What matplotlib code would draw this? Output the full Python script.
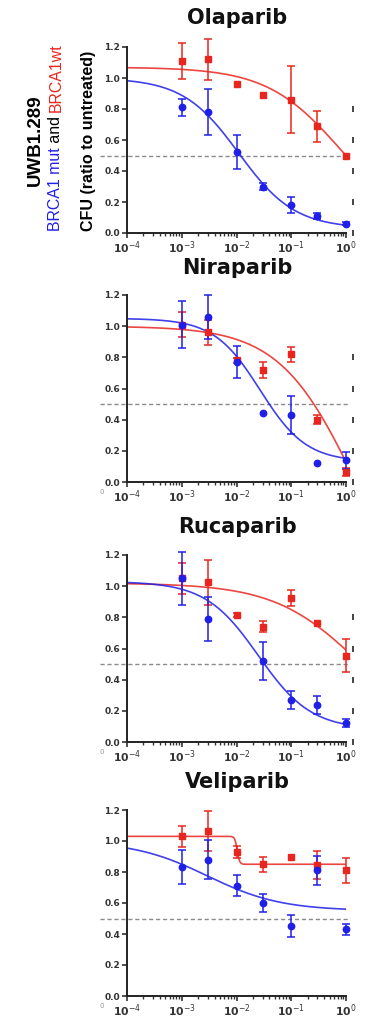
import numpy as np
import matplotlib
matplotlib.use("Agg")
import matplotlib.pyplot as plt
from matplotlib.ticker import LogLocator, NullFormatter

# drugs and doses (uM)
drugs = ["Olaparib", "Niraparib", "Rucaparib", "Veliparib"]
doses = [0.001, 0.003, 0.01, 0.03, 0.1, 0.3, 1.0]

# BRCA1 mut (blue) - mean CFU ratio and error
mut_mean = [
    [0.81, 0.78, 0.52, 0.30, 0.18, 0.11, 0.06],
    [1.01, 1.06, 0.77, 0.44, 0.43, 0.12, 0.14],
    [1.05, 0.79, np.nan, 0.52, 0.27, 0.24, 0.12],
    [0.83, 0.88, 0.71, 0.60, 0.45, 0.81, 0.43],
]
mut_err = [
    [0.055, 0.15, 0.11, 0.02, 0.05, 0.02, 0.01],
    [0.15, 0.14, 0.105, 0.0, 0.125, 0.0, 0.055],
    [0.17, 0.14, 0.0, 0.12, 0.06, 0.058, 0.026],
    [0.11, 0.127, 0.068, 0.055, 0.07, 0.093, 0.035],
]

# BRCA1 wt (red)
wt_mean = [
    [1.11, 1.12, 0.96, 0.89, 0.86, 0.69, 0.50],
    [1.01, 0.96, 0.78, 0.72, 0.82, 0.40, 0.065],
    [1.05, 1.025, 0.815, 0.74, 0.925, 0.765, 0.555],
    [1.03, 1.065, 0.93, 0.85, 0.90, 0.845, 0.81],
]
wt_err = [
    [0.115, 0.13, 0.0, 0.0, 0.215, 0.10, 0.0],
    [0.08, 0.08, 0.015, 0.05, 0.048, 0.03, 0.025],
    [0.10, 0.145, 0.01, 0.035, 0.053, 0.0, 0.105],
    [0.069, 0.13, 0.037, 0.048, 0.0, 0.088, 0.08],
]

# fitted dose-response curves: (top, bottom, IC50, hill)
mut_fit = [
    (1.0, 0.03, 0.011, 0.85),
    (1.05, 0.13, 0.027, 1.03),
    (1.03, 0.08, 0.025, 0.9),
    (1.0, 0.55, 0.00293, 0.645),
]
wt_fit = [
    (1.07, 0.0, 0.815, 0.64),
    (1.0, -1.0, 1.52, 0.62),
    (1.02, 0.0, 1.76, 0.56),
    (1.03, 0.85, 0.0103, 20.0),
]

y_ticks = [0.0, 0.2, 0.4, 0.6, 0.8, 1.0, 1.2]
x_exps = [-4, -3, -2, -1, 0]

BLUE = "#1f1fe8"
RED = "#e8261f"

W, H = 365, 1018
fig = plt.figure(figsize=(W / 100, H / 100), dpi=100)

# panel layout in pixels (top, bottom, title centre)
panel_top = [47, 295, 555, 810]
panel_bot = [233, 482, 742, 996]
title_y = [18, 268, 527, 782]
ax_left, ax_right = 127, 346


def curve(x, p):
    top, bottom, ic50, hill = p
    return bottom + (top - bottom) / (1 + (x / ic50) ** hill)


xs = np.logspace(-4, 0, 400)

for i, drug in enumerate(drugs):
    t, b = panel_top[i], panel_bot[i]
    ax = fig.add_axes([ax_left / W, 1 - b / H, (ax_right - ax_left) / W, (b - t) / H])
    ax.set_xscale("log")
    ax.set_xlim(1e-4, 1)
    ax.set_ylim(0, 1.2)

    # 50% line, runs a bit past the axes
    ax.plot([-0.123, 1.02], [0.5, 0.5], transform=ax.get_yaxis_transform(),
            color="#8a8a8a", lw=1.0, ls=(0, (3, 2)), clip_on=False, zorder=1)

    for mean, err, fit, col, mk, ms in [
        (wt_mean[i], wt_err[i], wt_fit[i], RED, "s", 4.6),
        (mut_mean[i], mut_err[i], mut_fit[i], BLUE, "o", 4.6),
    ]:
        ax.plot(xs, curve(xs, fit), color=col, lw=1.2, alpha=0.85, zorder=2)
        d = np.array(doses)
        m = np.array(mean)
        e = np.array(err)
        has = (e > 0) & ~np.isnan(m)
        ax.errorbar(d[has], m[has], yerr=e[has], fmt="none", ecolor=col,
                    elinewidth=1.1, capsize=3, capthick=1.1, clip_on=False, zorder=3)
        ax.plot(d, m, ls="none", marker=mk, ms=ms, color=col, mec=col,
                clip_on=False, zorder=4)

    for s in ["top", "right"]:
        ax.spines[s].set_visible(False)
    for s in ["left", "bottom"]:
        ax.spines[s].set_linewidth(1.4)
        ax.spines[s].set_color("#222222")

    ax.set_yticks(y_ticks)
    ax.set_yticklabels(["%.1f" % v for v in y_ticks], fontsize=6.5,
                       fontweight="bold", color="#333333")
    ax.set_xticks([10.0 ** k for k in x_exps])
    ax.set_xticklabels(["10$^{%d}$" % k for k in x_exps], fontsize=7.8,
                       fontweight="bold", color="#333333")
    ax.xaxis.set_minor_locator(LogLocator(base=10, subs=np.arange(2, 10)))
    ax.xaxis.set_minor_formatter(NullFormatter())
    ax.tick_params(axis="y", length=3.5, width=1.2, pad=1.5, colors="#333333")
    ax.tick_params(axis="x", which="major", length=3.5, width=1.2, pad=0.8,
                   colors="#333333")
    ax.tick_params(axis="x", which="minor", length=2, width=1.0, colors="#333333")

    fig.text(237 / W, 1 - title_y[i] / H, drug, ha="center", va="center",
             fontsize=15, fontweight="bold", color="#111111")

    # fragments of neighbouring panels at the crop edges
    if i < 3:
        ax.plot([1.03] * 5, y_ticks[:5], transform=ax.get_yaxis_transform(),
                ls="none", marker="|", ms=4, mew=1.4, color="#444444", clip_on=False)
    if i > 0:
        fig.text(102 / W, 1 - (b + 10) / H, "0", ha="center", va="center",
                 fontsize=5, color="#999999")

# left side labels
fig.text(35 / W, 1 - 140 / H, "UWB1.289", rotation=90, ha="center", va="center",
         fontsize=13.5, fontweight="bold", family="Liberation Sans")
fig.text(89 / W, 1 - 141 / H, "CFU (ratio to untreated)", rotation=90,
         ha="center", va="center", fontsize=11.5, fontweight="bold",
         family="Liberation Sans")

pieces = [("BRCA1 mut", BLUE), (" and ", "black"), ("BRCA1wt", RED)]
renderer = fig.canvas.get_renderer()
ypix = 231
for txt, col in pieces:
    tt = fig.text(56 / W, 1 - ypix / H, txt, rotation=90, rotation_mode="anchor",
                  ha="left", va="center", fontsize=11.4, color=col,
                  family="Liberation Sans")
    ext = tt.get_window_extent(renderer=renderer)
    ypix -= ext.height

fig.savefig("out.png", dpi=100)
